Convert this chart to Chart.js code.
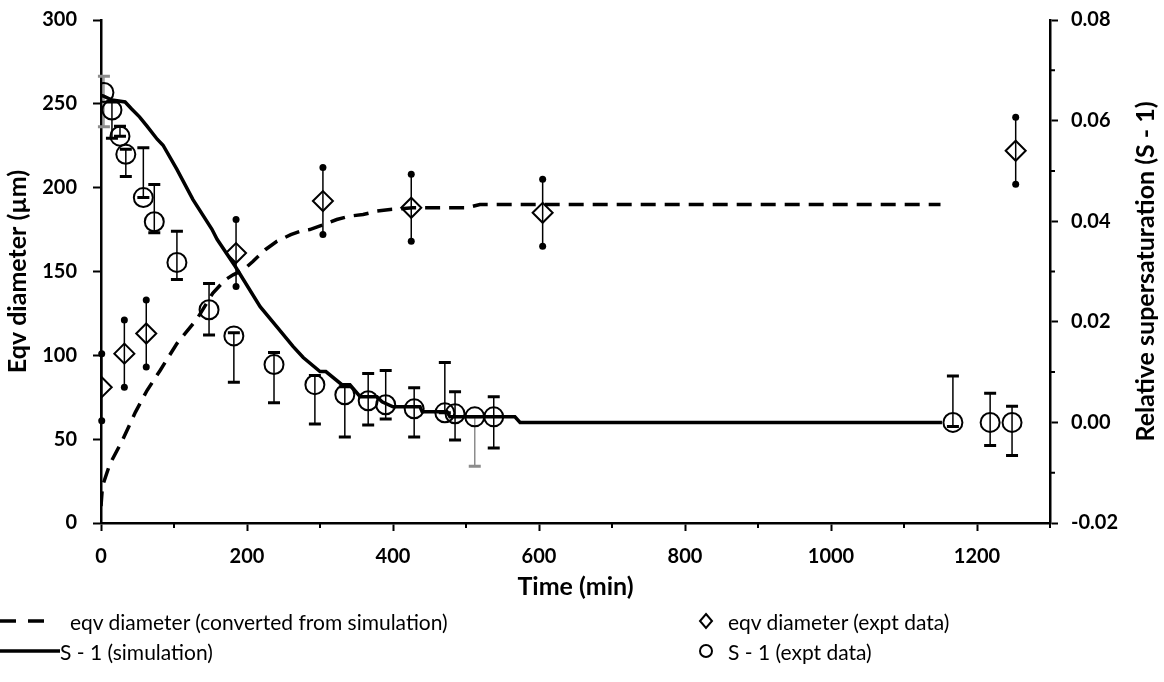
<!DOCTYPE html>
<html>
<head>
<meta charset="utf-8">
<script src="https://cdn.jsdelivr.net/npm/chart.js@4"></script>
<style>
  html, body { margin: 0; padding: 0; background: #fff; }
  #wrap { position: relative; width: 1164px; height: 682px; }
  #legend { position: absolute; left: 0; top: 0; width: 1164px; height: 682px; pointer-events: none;
    font-family: Lato, sans-serif; font-size: 21px; color: #000; }
  .item { position: absolute; display: flex; align-items: center; height: 26px; white-space: nowrap; }
  .item svg { display: block; }
</style>
</head>
<body>
<div id="wrap">
  <canvas id="chart" width="1164" height="682"></canvas>
  <div id="legend"></div>
</div>
<script>
// Crystal growth run: simulated vs measured equivalent diameter and supersaturation.

// eqv diameter converted from simulation (left axis)
const eqvSimTime = [0, 2, 12, 29, 47, 63, 81, 104, 132, 153, 170, 181, 195, 208, 225, 241, 260, 273, 286, 305, 323, 340, 359, 378, 396, 427, 470, 501, 519, 600, 800, 1000, 1150];
const eqvSimDiameter = [10, 22, 35, 49, 66, 79, 91, 107, 122, 137, 145, 148, 151, 156, 163, 168, 172, 174, 175, 178, 181, 183, 184, 186, 187, 188, 188, 188, 190, 190, 190, 190, 190];

// S - 1 from simulation (right axis)
const satSimTime = [0, 3, 15, 33, 42, 53, 63, 77, 85, 104, 126, 152, 159, 184, 218, 241, 263, 277, 300, 308, 330, 341, 355, 378, 385, 400, 437, 440, 474, 478, 567, 574, 1152];
const satSimValue = [0.065, 0.0649, 0.0641, 0.0637, 0.0623, 0.0607, 0.0589, 0.0563, 0.0551, 0.0503, 0.0443, 0.0384, 0.0364, 0.031, 0.023, 0.019, 0.0151, 0.0129, 0.0101, 0.0101, 0.0075, 0.0075, 0.0051, 0.0051, 0.0041, 0.0031, 0.0031, 0.0021, 0.0021, 0.0011, 0.0011, 0, 0];

// eqv diameter, experimental (left axis), symmetric error
const eqvExptTime = [1, 32, 62, 185, 304, 425, 605, 1253];
const eqvExptDiameter = [81, 101, 113, 161, 192, 188, 185, 222];
const eqvExptError = [20, 20, 20, 20, 20, 20, 20, 20];

// S - 1, experimental (right axis), asymmetric error
const satExptTime = [4, 15, 26, 34, 58, 73, 104, 148, 182, 237, 293, 334, 366, 390, 429, 471, 485, 512, 538, 1167, 1218, 1248];
const satExptValue = [0.0656, 0.0621, 0.0569, 0.0533, 0.0447, 0.0399, 0.0318, 0.0224, 0.0172, 0.0115, 0.0075, 0.0055, 0.0043, 0.0035, 0.0027, 0.0019, 0.0017, 0.0011, 0.0011, 0, 0, 0];
const satExptPlus = [0.0032, 0.0016, 0.002, 0.001, 0.0099, 0.0074, 0.0062, 0.0052, 0.0006, 0.0024, 0.0018, 0.0016, 0.0054, 0.0068, 0.0042, 0.01, 0.0044, 0, 0.004, 0.0092, 0.0058, 0.0032];
const satExptMinus = [0.0068, 0.0056, 0, 0.0044, 0, 0.0022, 0.0034, 0.005, 0.0092, 0.0076, 0.0078, 0.0084, 0.0048, 0.0028, 0.0056, 0, 0.0052, 0.0098, 0.0062, 0.0008, 0.0046, 0.0066];
const greyBars = [0, 17];

const FONT = 'Lato, sans-serif';
const tickFont = { family: FONT, size: 20, weight: 'bold' };
const titleFont = { family: FONT, size: 25, weight: 'bold' };

const pts = (xs, ys) => xs.map((x, i) => ({ x, y: ys[i] }));

// error bars: whiskers with caps for S - 1, with dots for diameter
const errorBars = {
  id: 'errorBars',
  beforeDatasetsDraw(chart) {
    const { ctx, scales: { x, y, y2 } } = chart;
    ctx.save();
    satExptTime.forEach((t, i) => {
      const px = x.getPixelForValue(t);
      const top = y2.getPixelForValue(satExptValue[i] + satExptPlus[i]);
      const bot = y2.getPixelForValue(satExptValue[i] - satExptMinus[i]);
      ctx.strokeStyle = greyBars.includes(i) ? '#8c8c8c' : '#000';
      ctx.lineWidth = 1.5;
      ctx.beginPath(); ctx.moveTo(px, top); ctx.lineTo(px, bot); ctx.stroke();
      ctx.lineWidth = 3;
      ctx.beginPath();
      ctx.moveTo(px - 6, top); ctx.lineTo(px + 6, top);
      ctx.moveTo(px - 6, bot); ctx.lineTo(px + 6, bot);
      ctx.stroke();
    });
    ctx.strokeStyle = '#000';
    ctx.fillStyle = '#000';
    eqvExptTime.forEach((t, i) => {
      const px = x.getPixelForValue(t);
      const top = y.getPixelForValue(eqvExptDiameter[i] + eqvExptError[i]);
      const bot = y.getPixelForValue(eqvExptDiameter[i] - eqvExptError[i]);
      ctx.lineWidth = 1.5;
      ctx.beginPath(); ctx.moveTo(px, top); ctx.lineTo(px, bot); ctx.stroke();
      [top, bot].forEach((py) => { ctx.beginPath(); ctx.arc(px, py, 3.5, 0, Math.PI * 2); ctx.fill(); });
    });
    ctx.restore();
  },
  afterDraw(chart) {
    const { ctx, scales: { x, y2 }, chartArea: a } = chart;
    ctx.save();
    ctx.strokeStyle = '#000';
    ctx.lineWidth = 2;
    ctx.beginPath();
    // minor ticks
    for (let t = 100; t <= 1300; t += 200) {
      const px = x.getPixelForValue(t);
      ctx.moveTo(px, a.bottom); ctx.lineTo(px, a.bottom + 5);
    }
    for (let s = -0.01; s < 0.08; s += 0.02) {
      const py = y2.getPixelForValue(s);
      ctx.moveTo(a.right, py); ctx.lineTo(a.right + 5, py);
    }
    ctx.stroke();
    // right axis title reads bottom-to-top
    ctx.fillStyle = '#000';
    ctx.font = `bold ${titleFont.size}px ${FONT}`;
    ctx.textAlign = 'center';
    ctx.textBaseline = 'middle';
    ctx.translate(1146, (a.top + a.bottom) / 2);
    ctx.rotate(-Math.PI / 2);
    ctx.fillText('Relative supersaturation (S - 1)', 0, 0);
    ctx.restore();
  },
};

const axisGrid = { drawOnChartArea: false, tickLength: 8, tickWidth: 2, tickColor: '#000' };
const axisBorder = { color: '#000', width: 2.5 };
// fixed box sizes so the plot area lands where the original has it
const fixWidth = (w) => (s) => { s.width = w; s.paddingTop = 0; s.paddingBottom = 0; };

new Chart(document.getElementById('chart'), {
  type: 'scatter',
  data: {
    datasets: [
      { label: 'eqv diameter (converted from simulation)', data: pts(eqvSimTime, eqvSimDiameter), yAxisID: 'y',
        showLine: true, borderColor: '#000', borderWidth: 3.5, borderDash: [15, 9], pointRadius: 0, tension: 0 },
      { label: 'S - 1 (simulation)', data: pts(satSimTime, satSimValue), yAxisID: 'y2',
        showLine: true, borderColor: '#000', borderWidth: 3.5, pointRadius: 0, tension: 0 },
      { label: 'eqv diameter (expt data)', data: pts(eqvExptTime, eqvExptDiameter), yAxisID: 'y',
        pointStyle: 'rectRot', pointRadius: 10, borderColor: '#000', borderWidth: 2, backgroundColor: 'rgba(0,0,0,0)' },
      { label: 'S - 1 (expt data)', data: pts(satExptTime, satExptValue), yAxisID: 'y2',
        pointStyle: 'circle', pointRadius: 9.5, borderColor: '#000', borderWidth: 2, backgroundColor: 'rgba(0,0,0,0)' },
    ],
  },
  options: {
    responsive: false,
    animation: false,
    events: [],
    layout: { padding: { top: 20, bottom: 80, left: 0, right: 0 } },
    plugins: { legend: { display: false }, tooltip: { enabled: false } },
    scales: {
      x: {
        type: 'linear', min: 0, max: 1300,
        afterBuildTicks: (s) => { s.ticks = s.ticks.filter((t) => t.value % 200 === 0); },
        ticks: { stepSize: 200, color: '#000', font: tickFont, padding: 14, maxRotation: 0, callback: (v) => String(v) },
        grid: axisGrid, border: axisBorder,
        title: { display: true, text: 'Time (min)', color: '#000', font: titleFont, padding: { top: 0, bottom: 0 } },
        afterFit: (s) => { s.height = 79; },
      },
      y: {
        position: 'left', min: 0, max: 300,
        ticks: { stepSize: 50, color: '#000', font: tickFont, padding: 16 },
        grid: axisGrid, border: axisBorder,
        title: { display: true, text: 'Eqv diameter (µm)', color: '#000', font: titleFont, padding: { top: 3, bottom: 0 } },
        afterFit: fixWidth(101),
      },
      y2: {
        position: 'right', min: -0.02, max: 0.08,
        ticks: { stepSize: 0.02, color: '#000', font: tickFont, padding: 13, callback: (v) => v.toFixed(2) },
        grid: axisGrid, border: axisBorder,
        afterFit: fixWidth(114),
      },
    },
  },
  plugins: [errorBars],
});

// Legend below the axis, two columns
const legendItems = [
  { left: 0, top: 608, text: 'eqv diameter (converted from simulation)',
    icon: '<svg width="70" height="20"><line x1="0" y1="10" x2="46" y2="10" stroke="#000" stroke-width="3.5" stroke-dasharray="16 12"/></svg>' },
  { left: 0, top: 638, text: 'S - 1 (simulation)',
    icon: '<svg width="60" height="20"><line x1="0" y1="10" x2="60" y2="10" stroke="#000" stroke-width="3.5"/></svg>' },
  { left: 697, top: 608, text: 'eqv diameter (expt data)',
    icon: '<svg width="31" height="20"><path d="M9 3 L15 10 L9 17 L3 10 Z" fill="none" stroke="#000" stroke-width="2"/></svg>' },
  { left: 697, top: 638, text: 'S - 1 (expt data)',
    icon: '<svg width="31" height="20"><circle cx="9" cy="10" r="6" fill="none" stroke="#000" stroke-width="2"/></svg>' },
];
document.getElementById('legend').innerHTML = legendItems.map((it) =>
  `<div class="item" style="left:${it.left}px; top:${it.top}px;">${it.icon}<span>${it.text}</span></div>`).join('');
</script>
</body>
</html>
